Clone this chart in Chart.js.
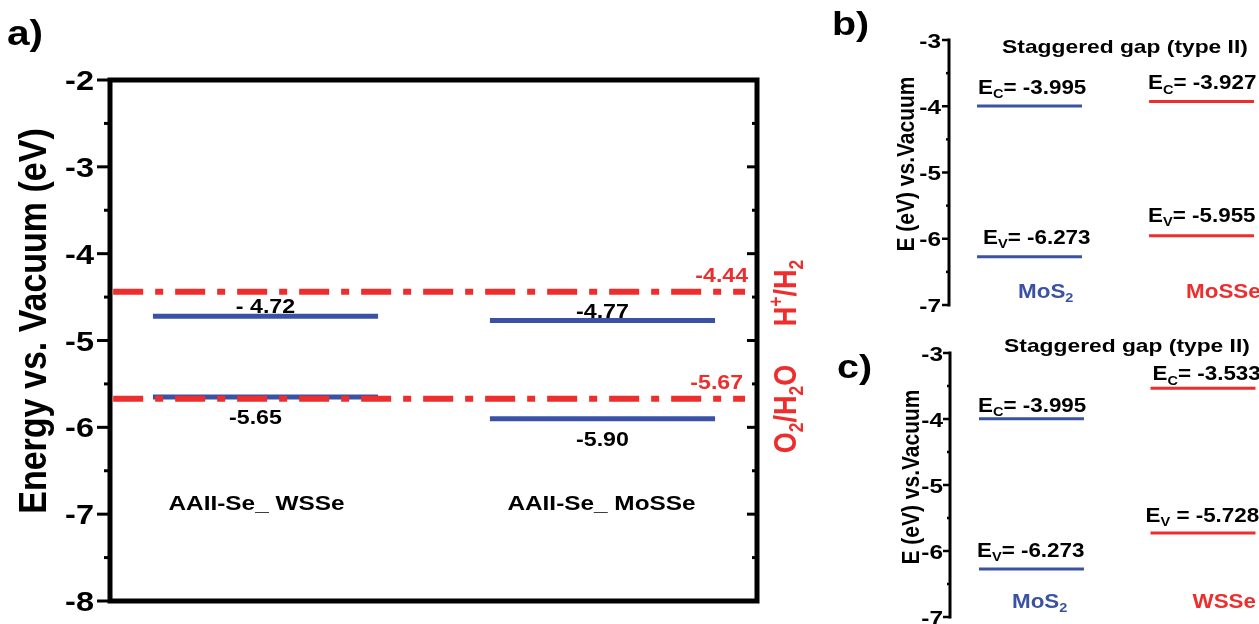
<!DOCTYPE html>
<html>
<head>
<meta charset="utf-8">
<script src="https://cdn.jsdelivr.net/npm/chart.js@4.4.1/dist/chart.umd.min.js"></script>
<style>
  html, body { margin: 0; padding: 0; background: #fff; }
  body { width: 1259px; height: 624px; position: relative; overflow: hidden; }
  canvas { position: absolute; }
</style>
</head>
<body>
<canvas id="ca" width="830" height="624" style="left:0px;top:0px"></canvas>
<canvas id="cb" width="429" height="312" style="left:830px;top:0px"></canvas>
<canvas id="cc" width="429" height="312" style="left:830px;top:312px"></canvas>
<script>
// ---------------- DATA ----------------
// Panel a
const aCategories = ['AAII-Se_ WSSe', 'AAII-Se_ MoSSe'];
const aCB = [-4.72, -4.77];
const aVB = [-5.65, -5.90];
const aCBLabels = ['- 4.72', '-4.77'];
const aVBLabels = ['-5.65', '-5.90'];
const aRedox = [-4.44, -5.67];
const aRedoxLabels = ['-4.44', '-5.67'];
const aRedoxNames = ['H+/H2', 'O2/H2O'];
const aTicks = [-2, -3, -4, -5, -6, -7, -8];
const aYTitle = 'Energy vs. Vacuum (eV)';

// Panel b
const bMaterials = ['MoS2', 'MoSSe'];
const bEC = [-3.995, -3.927];
const bEV = [-6.273, -5.955];
const bEq = ['= ', '= '];

// Panel c
const cMaterials = ['MoS2', 'WSSe'];
const cEC = [-3.995, -3.533];
const cEV = [-6.273, -5.728];
const cEq = ['= ', ' = '];

const bcTicks = [-3, -4, -5, -6, -7];
const bcTitle = 'Staggered gap (type II)';
const bcYTitle = 'E (eV) vs.Vacuum';

// ---------------- STYLE ----------------
const BLUE = '#3a52a3';
const RED = '#ee2d2d';
const FAM = 'Arial, "Liberation Sans", Helvetica, sans-serif';
const SX = 1.16; // horizontal stretch of the original figure's text

function chemParts(s) {
  const parts = [];
  for (const ch of s) {
    const kind = /[0-9]/.test(ch) ? 'sub' : (ch === '+' ? 'sup' : 'n');
    const last = parts[parts.length - 1];
    if (last && last.kind === kind) last.t += ch; else parts.push({ t: ch, kind });
  }
  return parts.map(p => ({ t: p.t, sub: p.kind === 'sub', sup: p.kind === 'sup' }));
}

function drawText(ctx, parts, x, y, o) {
  const size = o.size;
  const sx = o.sx ?? SX;
  if (typeof parts === 'string') parts = [{ t: parts }];
  ctx.save();
  ctx.fillStyle = o.color || '#000';
  ctx.textBaseline = 'alphabetic';
  ctx.textAlign = 'left';
  let w = 0;
  const segs = parts.map(p => {
    const fs = (p.sub || p.sup) ? size * 0.65 : size;
    ctx.font = `bold ${fs}px ${FAM}`;
    const m = ctx.measureText(p.t).width;
    w += m;
    return { ...p, fs, m };
  });
  ctx.translate(x, y);
  if (o.rotate) { ctx.rotate(o.rotate); ctx.scale(1, sx); } else { ctx.scale(sx, 1); }
  let cx = o.align === 'center' ? -w / 2 : (o.align === 'right' ? -w : 0);
  const dy = o.middle ? size * 0.358 : 0;
  segs.forEach(s => {
    ctx.font = `bold ${s.fs}px ${FAM}`;
    const off = s.sub ? size * 0.22 : (s.sup ? -size * 0.42 : 0);
    ctx.fillText(s.t, cx, dy + off);
    cx += s.m;
  });
  ctx.restore();
}

function seg(ctx, x1, y1, x2, y2) {
  ctx.beginPath(); ctx.moveTo(x1, y1); ctx.lineTo(x2, y2); ctx.stroke();
}

const baseOptions = (padding, xmin, xmax, ymin, ymax) => ({
  responsive: false,
  animation: false,
  events: [],
  layout: { padding },
  plugins: { legend: { display: false }, tooltip: { enabled: false }, title: { display: false } },
  scales: {
    x: { type: 'linear', min: xmin, max: xmax, display: false },
    y: { type: 'linear', min: ymin, max: ymax, display: false }
  }
});

// ---------------- PANEL A ----------------
const hwA = 0.334;
const aDatasets = [];
aRedox.forEach(v => aDatasets.push({
  data: [{ x: -0.452, y: v }, { x: 1.423, y: v }],
  borderColor: RED, borderWidth: 6, borderDash: [30, 12, 8, 12],
  pointRadius: 0, order: 0
}));
aCategories.forEach((c, i) => {
  aDatasets.push({ data: [{ x: i - hwA, y: aCB[i] }, { x: i + hwA, y: aCB[i] }],
    borderColor: BLUE, borderWidth: 5, pointRadius: 0, order: 1 });
  aDatasets.push({ data: [{ x: i - hwA, y: aVB[i] }, { x: i + hwA, y: aVB[i] }],
    borderColor: BLUE, borderWidth: 5, pointRadius: 0, order: 1 });
});

const aDeco = {
  id: 'aDeco',
  afterDraw(chart) {
    const { ctx, chartArea: ca, scales: { x, y } } = chart;
    ctx.save();
    ctx.strokeStyle = '#000';
    ctx.lineWidth = 5;
    ctx.strokeRect(ca.left, ca.top, ca.right - ca.left, ca.bottom - ca.top);
    ctx.lineWidth = 3;
    aTicks.forEach((v, i) => {
      const py = y.getPixelForValue(v);
      seg(ctx, ca.left - 13, py, ca.left, py);
      seg(ctx, ca.right - 10, py, ca.right, py);
      drawText(ctx, String(v), ca.left - 16, py, { size: 28, align: 'right', middle: true });
      if (i < aTicks.length - 1) {
        const pm = y.getPixelForValue((v + aTicks[i + 1]) / 2);
        seg(ctx, ca.left - 6, pm, ca.left, pm);
        seg(ctx, ca.right - 5, pm, ca.right, pm);
      }
    });
    aCategories.forEach((c, i) => {
      const cx = x.getPixelForValue(i);
      drawText(ctx, aCBLabels[i], cx, y.getPixelForValue(aCB[i]) - 3, { size: 20, align: 'center' });
      drawText(ctx, aVBLabels[i], cx - (i === 0 ? 10 : 0), y.getPixelForValue(aVB[i]) + 27, { size: 20, align: 'center' });
      drawText(ctx, c, cx - (i === 0 ? 9 : 1), 510, { size: 21, align: 'center' });
    });
    aRedox.forEach((v, i) => {
      const py = y.getPixelForValue(v);
      drawText(ctx, aRedoxLabels[i], ca.right - (i === 0 ? 9 : 14), py - 10, { size: 21, align: 'right', color: RED, sx: 1.1 });
      const mid = i === 0 ? 293 : 409;
      drawText(ctx, chemParts(aRedoxNames[i]), 785, mid, { size: 27, align: 'center', middle: true, rotate: -Math.PI / 2, color: RED });
    });
    drawText(ctx, aYTitle, 32, 321, { size: 34, align: 'center', middle: true, rotate: -Math.PI / 2 });
    drawText(ctx, 'a)', 7, 45, { size: 35 });
    ctx.restore();
  }
};

new Chart(document.getElementById('ca'), {
  type: 'line',
  data: { datasets: aDatasets },
  options: baseOptions({ left: 110, top: 80, right: 73, bottom: 23 }, -0.4614, 1.4585, -8, -2),
  plugins: [aDeco]
});

// ---------------- PANELS B & C ----------------
function levelChart(id, mats, ec, ev, eq, cfg) {
  const colors = [BLUE, RED];
  const ds = [];
  mats.forEach((m, i) => {
    ds.push({ data: [{ x: i - cfg.hw, y: ec[i] }, { x: i + cfg.hw, y: ec[i] }],
      borderColor: colors[i], borderWidth: 3, pointRadius: 0 });
    ds.push({ data: [{ x: i - cfg.hw, y: ev[i] }, { x: i + cfg.hw, y: ev[i] }],
      borderColor: colors[i], borderWidth: 3, pointRadius: 0 });
  });
  const deco = {
    id: 'deco' + id,
    afterDraw(chart) {
      const { ctx, chartArea: ca, scales: { x, y } } = chart;
      ctx.save();
      ctx.strokeStyle = '#000';
      ctx.lineWidth = 3;
      seg(ctx, ca.left, ca.top - 1.5, ca.left, ca.bottom + 1.5);
      ctx.lineWidth = 2.5;
      bcTicks.forEach((v, i) => {
        const py = y.getPixelForValue(v);
        seg(ctx, ca.left - 7, py, ca.left, py);
        drawText(ctx, String(v), ca.left - cfg.tickGap, py, { size: 21, align: 'right', middle: true });
        if (i < bcTicks.length - 1) {
          const pm = y.getPixelForValue((v + bcTicks[i + 1]) / 2);
          seg(ctx, ca.left - 3, pm, ca.left, pm);
        }
      });
      mats.forEach((m, i) => {
        const x0 = x.getPixelForValue(i - cfg.hw);
        drawText(ctx, [{ t: 'E' }, { t: 'C', sub: true }, { t: '= ' + ec[i].toFixed(3) }],
          x0 + cfg.ecDx[i], y.getPixelForValue(ec[i]) + cfg.ecDy[i], { size: 20, sx: 1.12 });
        drawText(ctx, [{ t: 'E' }, { t: 'V', sub: true }, { t: eq[i] + ev[i].toFixed(3) }],
          x0 + cfg.evDx[i], y.getPixelForValue(ev[i]) + cfg.evDy[i], { size: 20, sx: 1.12 });
        drawText(ctx, chemParts(m), x0 + cfg.matDx[i], cfg.matY, { size: 20, color: colors[i], sx: 1.12 });
      });
      drawText(ctx, bcTitle, cfg.titleX, cfg.titleY, { size: 19, align: 'center', sx: 1.2 });
      drawText(ctx, bcYTitle, cfg.yTitleX, cfg.yTitleY, { size: 21, align: 'center', middle: true, rotate: -Math.PI / 2 });
      drawText(ctx, cfg.panel, cfg.panelX, cfg.panelY, { size: 34 });
      ctx.restore();
    }
  };
  new Chart(document.getElementById(id), {
    type: 'line',
    data: { datasets: ds },
    options: baseOptions(cfg.padding, cfg.xmin, cfg.xmax, -7, -3),
    plugins: [deco]
  });
}

levelChart('cb', bMaterials, bEC, bEV, bEq, {
  padding: { left: 119, top: 40, right: 0, bottom: 7 },
  xmin: -0.468, xmax: 1.334, hw: 0.305, tickGap: 8,
  ecDx: [1, -1], ecDy: [-12, -12], evDx: [6, -1], evDy: [-13, -14],
  matDx: [41, 37], matY: 298,
  titleX: 295, titleY: 53, yTitleX: 75, yTitleY: 164,
  panel: 'b)', panelX: 2, panelY: 35
});

levelChart('cc', cMaterials, cEC, cEV, cEq, {
  padding: { left: 120, top: 41, right: 0, bottom: 7 },
  xmin: -0.475, xmax: 1.3265, hw: 0.306, tickGap: 7,
  ecDx: [-1, 2], ecDy: [-7, -8], evDx: [-2, -5], evDy: [-12, -11],
  matDx: [33, 42], matY: 296,
  titleX: 297, titleY: 40, yTitleX: 80, yTitleY: 165,
  panel: 'c)', panelX: 7, panelY: 66
});
</script>
</body>
</html>
